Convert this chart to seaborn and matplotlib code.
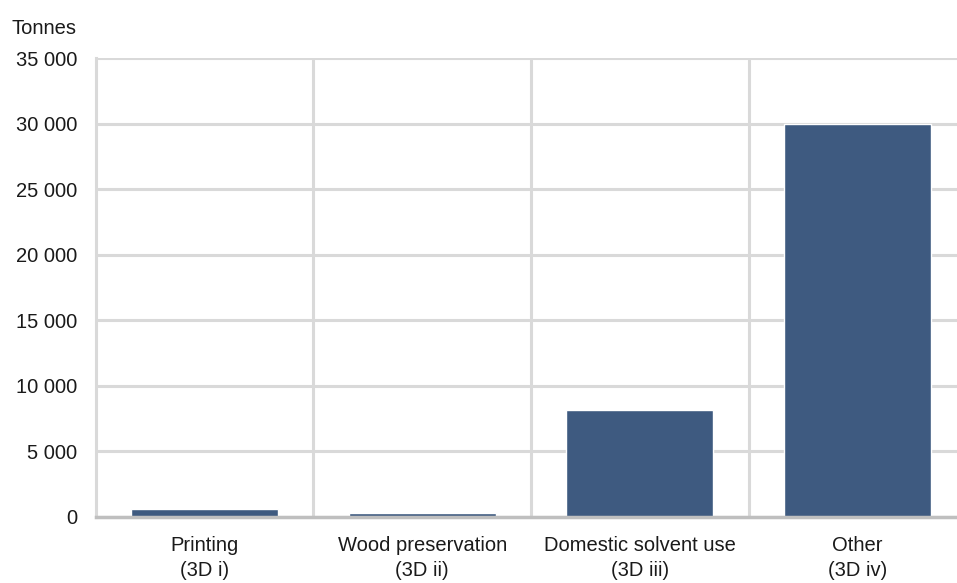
import matplotlib
matplotlib.use("Agg")
import matplotlib.pyplot as plt
import seaborn as sns
import pandas as pd

categories = ["Printing\n(3D i)", "Wood preservation\n(3D ii)",
              "Domestic solvent use\n(3D iii)", "Other\n(3D iv)"]
values = [600, 300, 8100, 30000]
yticks = [0, 5000, 10000, 15000, 20000, 25000, 30000, 35000]
ytick_labels = ["0", "5 000", "10 000", "15 000", "20 000", "25 000", "30 000", "35 000"]

sns.set_theme(style="white")
plt.rcParams['font.family'] = ['Liberation Sans', 'DejaVu Sans']

FS = 14.5
df = pd.DataFrame({"category": categories, "value": values})

fig = plt.figure(figsize=(9.57, 5.83), dpi=100)
ax = fig.add_axes([95.6/957, 1-516.5/583, (966.4-95.6)/957, (516.5-58.3)/583])

sns.barplot(data=df, x="category", y="value", color="#3e5a80", width=0.674,
            saturation=1, ax=ax, zorder=3)

ax.set_ylim(0, 35000)
ax.set_xlim(-0.5, 3.5)
ax.set_yticks(yticks)
ax.set_yticklabels(ytick_labels, fontsize=FS, color="#1a1a1a")
ax.set_xticklabels(categories, fontsize=FS, color="#1a1a1a", linespacing=1.42)
ax.set_xlabel("")
ax.set_ylabel("")
ax.tick_params(axis="y", length=0, pad=13)
ax.tick_params(axis="x", length=0, pad=14)

ax.grid(axis="y", color="#d9d9d9", linewidth=2.2, zorder=0)
for xb in [0.5, 1.5, 2.5]:
    ax.axvline(xb, color="#d9d9d9", linewidth=2.2, zorder=0)

for s in ["top", "right"]:
    ax.spines[s].set_visible(False)
ax.spines["left"].set_color("#d9d9d9")
ax.spines["left"].set_linewidth(2.2)
ax.spines["bottom"].set_color("#bfbfbf")
ax.spines["bottom"].set_linewidth(2.5)
ax.spines["bottom"].set_zorder(4)

fig.text(12/957, 1-29/583, "Tonnes", fontsize=FS, color="#1a1a1a", va="center", ha="left")

fig.savefig("out.png", dpi=100)
